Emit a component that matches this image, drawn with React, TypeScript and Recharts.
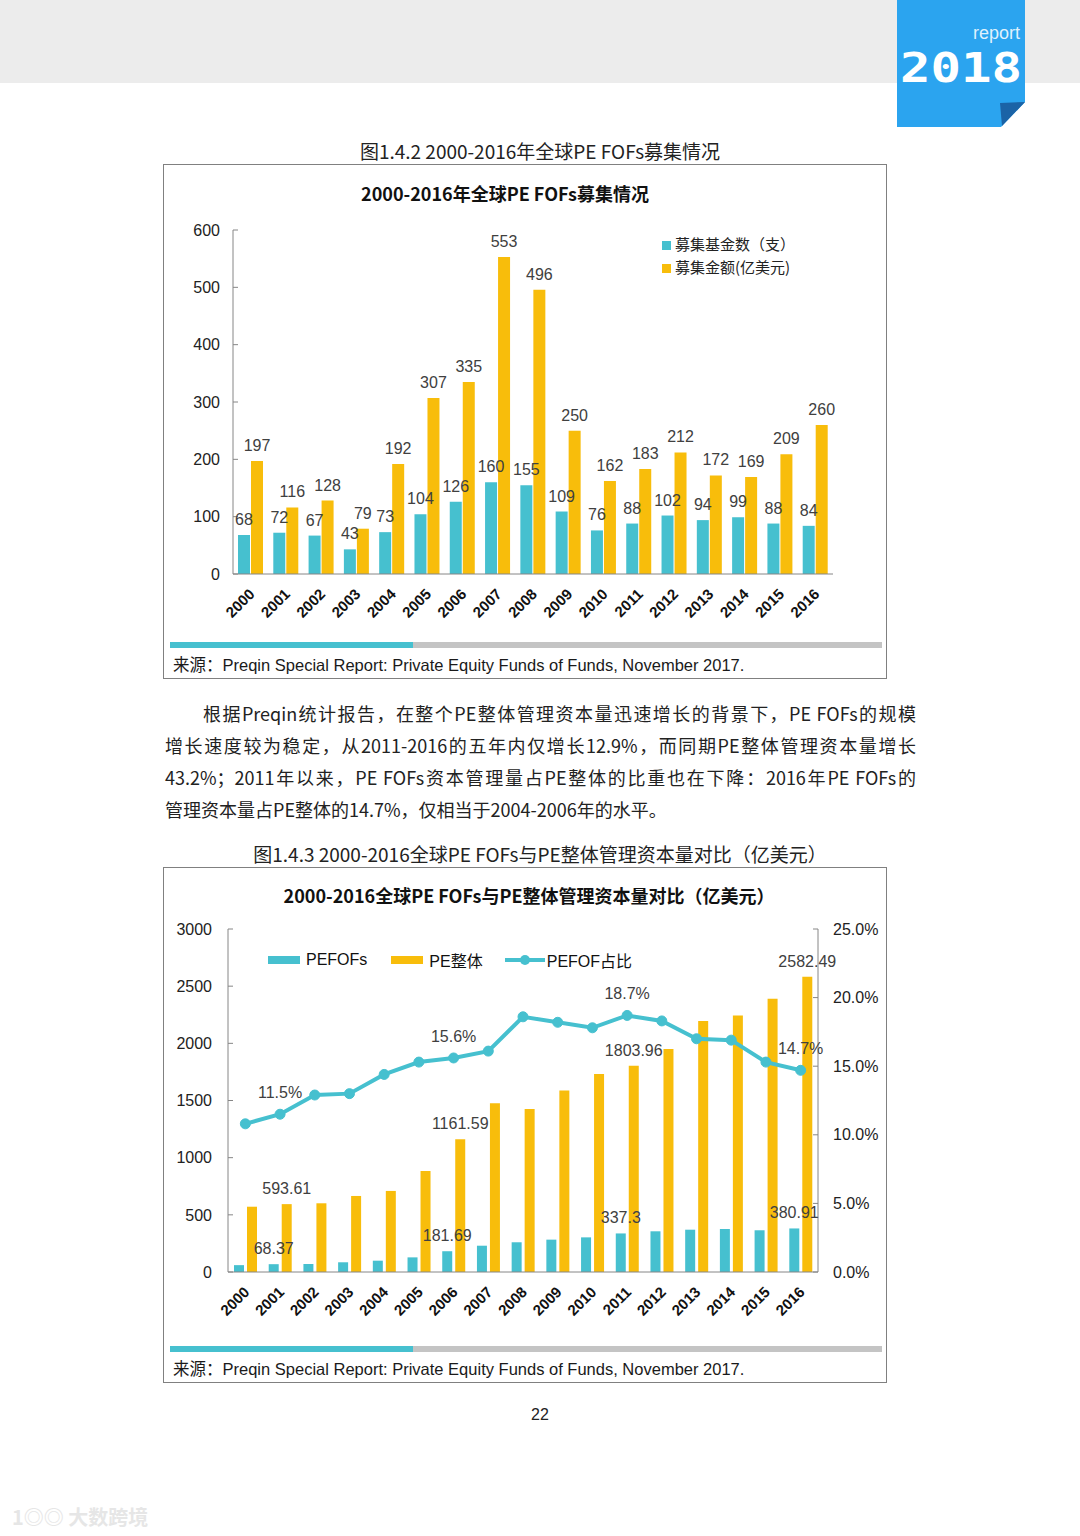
import React from 'react';
import {
  BarChart, Bar, ComposedChart, Line, XAxis, YAxis, Legend, LabelList,
} from 'recharts';

// 图1.4.2
const years = ['2000', '2001', '2002', '2003', '2004', '2005', '2006', '2007', '2008', '2009', '2010', '2011', '2012', '2013', '2014', '2015', '2016'];
const fundCount = [68, 72, 67, 43, 73, 104, 126, 160, 155, 109, 76, 88, 102, 94, 99, 88, 84];
const fundAmount = [197, 116, 128, 79, 192, 307, 335, 553, 496, 250, 162, 183, 212, 172, 169, 209, 260];
const countTicks = [0, 100, 200, 300, 400, 500, 600];

// 图1.4.3
const fofCapital = [60, 68.37, 70, 85, 99, 128, 181.69, 230, 260, 283, 303, 337.3, 356, 370, 376, 365, 380.91];
const peCapital = [571, 593.61, 601, 665, 709, 884, 1161.59, 1476, 1426, 1587, 1732, 1803.96, 1951, 2196, 2243, 2389, 2582.49];
const fofShare = [10.8, 11.5, 12.9, 13.0, 14.4, 15.3, 15.6, 16.1, 18.6, 18.2, 17.8, 18.7, 18.3, 17.0, 16.9, 15.3, 14.7];
const capitalTicks = [0, 500, 1000, 1500, 2000, 2500, 3000];
const shareTicks = [0, 5, 10, 15, 20, 25];
const labeledYears = ['2001', '2006', '2011', '2016'];

const TEAL = '#46c0cf';
const YELLOW = '#f8bd0b';
const FONT = "'Liberation Sans', Arial, 'Noto Sans CJK SC', sans-serif";
const CJK = "'Noto Sans CJK SC', 'Liberation Sans', sans-serif";

const raiseData = years.map((y, i) => ({ year: y, count: fundCount[i], amount: fundAmount[i] }));
const capitalData = years.map((y, i) => ({ year: y, fof: fofCapital[i], pe: peCapital[i], share: fofShare[i] }));

const paragraph = [
  '根据Preqin统计报告，在整个PE整体管理资本量迅速增长的背景下，PE FOFs的规模',
  '增长速度较为稳定，从2011-2016的五年内仅增长12.9%，而同期PE整体管理资本量增长',
  '43.2%；2011年以来，PE FOFs资本管理量占PE整体的比重也在下降：2016年PE FOFs的',
  '管理资本量占PE整体的14.7%，仅相当于2004-2006年的水平。',
];

const YearTick = (props: any) => {
  const { x, y, payload } = props;
  const ax = x + 5;
  const ay = y + 21;
  return (
    <text x={ax} y={ay} textAnchor="end" transform={`rotate(-45, ${ax}, ${ay})`}
      fontFamily={FONT} fontWeight="bold" fontSize={15} fill="#111">
      {payload.value}
    </text>
  );
};

// only some years carry a value label in the second chart
const pickLabel = (offset: number, fmt: (v: number) => string) => (props: any) => {
  const { x, y, width, value, index } = props;
  if (!labeledYears.includes(years[index])) return null;
  const cx = x + (width || 0) / 2;
  return (
    <text x={cx} y={y - offset} textAnchor="middle" fontFamily={FONT} fontSize={16} fill="#404040">
      {fmt(value)}
    </text>
  );
};

const RaiseLegend = () => (
  <div style={{ fontFamily: CJK, fontSize: 15, color: '#222', lineHeight: '23px' }}>
    <div><span style={{ display: 'inline-block', width: 9, height: 9, background: TEAL, marginRight: 4 }} />募集基金数（支）</div>
    <div><span style={{ display: 'inline-block', width: 9, height: 9, background: YELLOW, marginRight: 4 }} />募集金额(亿美元)</div>
  </div>
);

const CapitalLegend = () => (
  <div style={{ display: 'flex', alignItems: 'center', fontFamily: FONT, fontSize: 16, color: '#111', whiteSpace: 'nowrap' }}>
    <span style={{ display: 'inline-block', width: 32, height: 8, background: TEAL, marginRight: 6 }} />
    <span style={{ marginRight: 24 }}>PEFOFs</span>
    <span style={{ display: 'inline-block', width: 32, height: 8, background: YELLOW, marginRight: 6 }} />
    <span style={{ marginRight: 22 }}>PE整体</span>
    <svg width={40} height={12} style={{ marginRight: 2 }}>
      <line x1={0} y1={6} x2={40} y2={6} stroke={TEAL} strokeWidth={4} />
      <circle cx={20} cy={6} r={5} fill={TEAL} />
    </svg>
    <span>PEFOF占比</span>
  </div>
);

const SourceFooter = ({ top }: { top: number }) => (
  <>
    <div style={{ position: 'absolute', left: 6, top, width: 712, height: 6, background: '#c4c4c4' }}>
      <div style={{ width: 243, height: 6, background: TEAL }} />
    </div>
    <div style={{ position: 'absolute', left: 9, top: top + 10, fontFamily: FONT, fontSize: 16.5, color: '#1a1a1a', whiteSpace: 'nowrap' }}>
      来源：Preqin Special Report: Private Equity Funds of Funds, November 2017.
    </div>
  </>
);

const frame: React.CSSProperties = {
  position: 'absolute', left: 163, width: 724, border: '1px solid #808080', boxSizing: 'border-box', background: '#fff',
};

export default function App() {
  return (
    <div style={{ position: 'absolute', left: 0, top: 0, width: 1080, height: 1536, background: '#fff', overflow: 'hidden' }}>
      {/* header */}
      <div style={{ position: 'absolute', left: 0, top: 0, width: 1080, height: 83, background: '#ececec' }} />
      <svg style={{ position: 'absolute', left: 0, top: 0 }} width={1080} height={130}>
        <polygon points="897,0 1025,0 1025,102 1001,127 897,127" fill="#2ba4ef" />
        <polygon points="1000,103 1025,102 1002,126" fill="#1b63a6" />
        <text x={1020} y={39} textAnchor="end" fontFamily={FONT} fontSize={18} fill="#dff1fd">report</text>
        <text x={961} y={82} textAnchor="middle" fontFamily="'DejaVu Sans Mono', monospace" fontWeight="bold"
          fontSize={40} fill="#fff" textLength={122} lengthAdjust="spacingAndGlyphs">2018</text>
      </svg>

      {/* figure 1.4.2 */}
      <div style={{ position: 'absolute', left: 0, width: 1080, top: 137, textAlign: 'center', fontFamily: CJK, fontSize: 19, color: '#222' }}>
        图1.4.2 2000-2016年全球PE FOFs募集情况
      </div>
      <div style={{ ...frame, top: 164, height: 515 }}>
        <div style={{ position: 'absolute', left: -20, width: 722, top: 15, textAlign: 'center', fontFamily: CJK, fontWeight: 'bold', fontSize: 18, color: '#111' }}>
          2000-2016年全球PE FOFs募集情况
        </div>
        <div style={{ position: 'absolute', left: 0, top: 0 }}>
          <BarChart width={722} height={470} data={raiseData} margin={{ top: 65, right: 53, bottom: 0, left: 0 }}
            barSize={12} barGap={1}>
            <XAxis dataKey="year" interval={0} height={61} tick={<YearTick />} tickLine={false} tickSize={0} tickMargin={0}
              axisLine={{ stroke: '#868686' }} />
            <YAxis width={69} domain={[0, 600]} ticks={countTicks} interval={0} axisLine={{ stroke: '#868686' }}
              tickLine={{ stroke: '#868686' }} tickSize={-5} tickMargin={18}
              tick={{ fontFamily: FONT, fontSize: 16, fill: '#222' }} />
            <Legend layout="vertical" align="center" verticalAlign="middle" content={<RaiseLegend />}
              wrapperStyle={{ left: 498, top: 67, width: 'auto', height: 'auto' }} />
            <Bar dataKey="count" fill={TEAL} isAnimationActive={false}>
              <LabelList dataKey="count" position="top" offset={10} style={{ fontFamily: FONT, fontSize: 16, fill: '#404040' }} />
            </Bar>
            <Bar dataKey="amount" fill={YELLOW} isAnimationActive={false}>
              <LabelList dataKey="amount" position="top" offset={10} style={{ fontFamily: FONT, fontSize: 16, fill: '#404040' }} />
            </Bar>
          </BarChart>
        </div>
        <SourceFooter top={477} />
      </div>

      {/* paragraph */}
      <div style={{ position: 'absolute', left: 165, top: 697, width: 751, fontFamily: CJK, fontSize: 18, lineHeight: '32px', color: '#222' }}>
        {paragraph.map((line, i) => (
          <div key={i} style={{
            textAlign: 'justify',
            textAlignLast: i < paragraph.length - 1 ? 'justify' : 'left',
            textIndent: i === 0 ? 38 : 0,
            whiteSpace: 'nowrap',
          }}>{line}</div>
        ))}
      </div>

      {/* figure 1.4.3 */}
      <div style={{ position: 'absolute', left: 0, width: 1080, top: 840, textAlign: 'center', fontFamily: CJK, fontSize: 19, color: '#222' }}>
        图1.4.3 2000-2016全球PE FOFs与PE整体管理资本量对比（亿美元）
      </div>
      <div style={{ ...frame, top: 867, height: 516 }}>
        <div style={{ position: 'absolute', left: 4, width: 722, top: 14, textAlign: 'center', fontFamily: CJK, fontWeight: 'bold', fontSize: 18, color: '#111' }}>
          2000-2016全球PE FOFs与PE整体管理资本量对比（亿美元）
        </div>
        <div style={{ position: 'absolute', left: 0, top: 0 }}>
          <ComposedChart width={722} height={470} data={capitalData} margin={{ top: 61, right: 0, bottom: 0, left: 0 }}
            barSize={10} barGap={3}>
            <XAxis dataKey="year" interval={0} height={66} tick={<YearTick />} tickLine={false} tickSize={0} tickMargin={0}
              axisLine={{ stroke: '#868686' }} />
            <YAxis yAxisId="cap" width={64} domain={[0, 3000]} ticks={capitalTicks} interval={0}
              axisLine={{ stroke: '#868686' }} tickLine={{ stroke: '#868686' }} tickSize={-5} tickMargin={21}
              tick={{ fontFamily: FONT, fontSize: 16, fill: '#222' }} />
            <YAxis yAxisId="share" orientation="right" width={68} domain={[0, 25]} ticks={shareTicks} interval={0}
              axisLine={{ stroke: '#868686' }} tickLine={{ stroke: '#868686' }} tickSize={-5} tickMargin={20}
              tickFormatter={(v: number) => `${v.toFixed(1)}%`}
              tick={{ fontFamily: FONT, fontSize: 16, fill: '#222' }} />
            <Legend layout="horizontal" align="center" verticalAlign="middle" content={<CapitalLegend />}
              wrapperStyle={{ left: 104, top: 80, width: 'auto', height: 'auto' }} />
            <Bar yAxisId="cap" dataKey="fof" fill={TEAL} isAnimationActive={false}>
              <LabelList dataKey="fof" content={pickLabel(10, (v) => String(v))} />
            </Bar>
            <Bar yAxisId="cap" dataKey="pe" fill={YELLOW} isAnimationActive={false}>
              <LabelList dataKey="pe" content={pickLabel(10, (v) => String(v))} />
            </Bar>
            <Line yAxisId="share" dataKey="share" stroke={TEAL} strokeWidth={4} isAnimationActive={false}
              dot={{ r: 5, fill: TEAL, stroke: TEAL, strokeWidth: 1 }}>
              <LabelList dataKey="share" content={pickLabel(16, (v) => `${v.toFixed(1)}%`)} />
            </Line>
          </ComposedChart>
        </div>
        <SourceFooter top={478} />
      </div>

      <div style={{ position: 'absolute', left: 0, width: 1080, top: 1406, textAlign: 'center', fontFamily: FONT, fontSize: 16, color: '#222' }}>22</div>
      <div style={{ position: 'absolute', left: 12, top: 1502, fontFamily: CJK, fontWeight: 'bold', fontSize: 20, color: '#e6e6e6', whiteSpace: 'nowrap' }}>
        1◎◎ 大数跨境
      </div>
    </div>
  );
}
